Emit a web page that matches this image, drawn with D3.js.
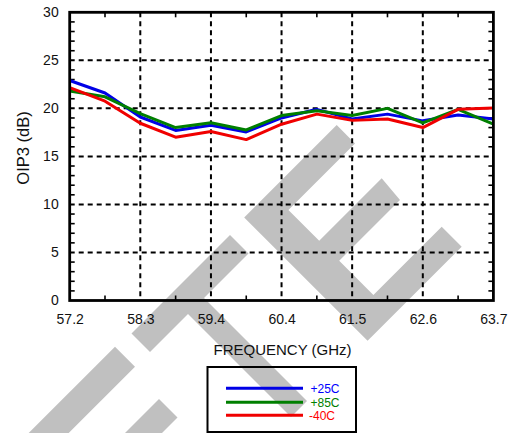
<!DOCTYPE html>
<html><head><meta charset="utf-8">
<script src="https://cdn.jsdelivr.net/npm/d3@7"></script>
<style>
body{margin:0;background:#fff}
svg{display:block}
text{font-family:"Liberation Sans",Arial,Helvetica,sans-serif}
</style>
</head><body>
<svg id="chart" width="508" height="433"></svg>
<script>
// ---- data ----
const frequency = [57.2, 57.742, 58.283, 58.825, 59.367, 59.908, 60.45, 60.992, 61.533, 62.075, 62.617, 63.158, 63.7];
const oip3_p25 = [22.9, 21.6, 19.1, 17.7, 18.25, 17.55, 19.0, 19.9, 18.9, 19.4, 18.7, 19.3, 18.9];
const oip3_p85 = [21.8, 21.2, 19.45, 18.0, 18.5, 17.75, 19.25, 19.75, 19.25, 20.0, 18.5, 19.9, 18.35];
const oip3_m40 = [22.15, 20.75, 18.45, 17.0, 17.6, 16.75, 18.35, 19.4, 18.75, 18.9, 18.0, 19.9, 20.05];
const seriesNames = ["+25C", "+85C", "-40C"];
const xTickValues = [57.2, 58.283, 59.367, 60.45, 61.533, 62.617, 63.7];
const xTickLabels = ["57.2", "58.3", "59.4", "60.4", "61.5", "62.6", "63.7"];
const yTickValues = [0, 5, 10, 15, 20, 25, 30];
const yTickLabels = ["0", "5", "10", "15", "20", "25", "30"];
const xTitle = "FREQUENCY (GHz)";
const yTitle = "OIP3 (dB)";

// ---- styles ----
const colors = ["#0000e6", "#007f00", "#f00000"];
const textColors = ["#0000ff", "#008000", "#ff0000"];

const svg = d3.select("#chart");
const x = d3.scaleLinear().domain([57.2, 63.7]).range([69.7, 493.4]);
const y = d3.scaleLinear().domain([0, 30]).range([300.5, 12.3]);

// ---- decorative watermark (behind the chart) ----
const wm = svg.append("g").attr("fill", "#c0c0c0");
const wmShapes = [
  [[244.2,217.5],[336.7,125],[355,143.4],[288.4,210],[319.2,240.8],[381.7,178.3],[400,200],[339.2,260.8],[373.4,295],[441.7,226.7],[461.7,246.7],[367.6,340.8]],
  [[131.5,333.5],[230,235],[248.5,253.5],[204,298],[307,401],[291,417],[188,314],[150,352]],
  [[115,346.7],[135,366.7],[68.7,433],[28.7,433]],
  [[159,399],[177.5,417.5],[162,433],[125,433]]
];
wm.selectAll("polygon").data(wmShapes).join("polygon")
  .attr("points", d => d.map(p => p.join(",")).join(" "));

// ---- grid ----
const grid = svg.append("g").attr("stroke", "#000").attr("stroke-width", 2).attr("stroke-dasharray", "5,4");
grid.selectAll("line.v").data(xTickValues.slice(1, -1)).join("line").attr("class", "v")
  .attr("x1", d => x(d)).attr("x2", d => x(d)).attr("y1", y(30)).attr("y2", y(0));
grid.selectAll("line.h").data(yTickValues.slice(1, -1)).join("line").attr("class", "h")
  .attr("y1", d => y(d)).attr("y2", d => y(d)).attr("x1", x(57.2)).attr("x2", x(63.7));

// ---- minor ticks (inside frame) ----
const ticks = svg.append("g").attr("stroke", "#000").attr("stroke-width", 1.6);
const xMinor = d3.pairs(xTickValues).map(p => (p[0] + p[1]) / 2);
xMinor.forEach(v => {
  ticks.append("line").attr("x1", x(v)).attr("x2", x(v)).attr("y1", y(0)).attr("y2", y(0) - 5);
  ticks.append("line").attr("x1", x(v)).attr("x2", x(v)).attr("y1", y(30)).attr("y2", y(30) + 5);
});
const yMinor = d3.range(1, 30).filter(v => v % 5 !== 0);
yMinor.forEach(v => {
  ticks.append("line").attr("y1", y(v)).attr("y2", y(v)).attr("x1", x(57.2)).attr("x2", x(57.2) + 5);
  ticks.append("line").attr("y1", y(v)).attr("y2", y(v)).attr("x1", x(63.7)).attr("x2", x(63.7) - 5);
});

// ---- axes labels ----
const xAxis = d3.axisBottom(x).tickValues(xTickValues).tickFormat((d, i) => xTickLabels[i]).tickSize(0).tickPadding(14);
const gx = svg.append("g").attr("transform", `translate(0,${y(0)})`).call(xAxis);
gx.select(".domain").remove();
gx.selectAll("text").attr("font-size", 14).attr("fill", "#111").attr("font-family", '"Liberation Sans",Arial,sans-serif');

const yAxis = d3.axisLeft(y).tickValues(yTickValues).tickFormat((d, i) => yTickLabels[i]).tickSize(0).tickPadding(11);
const gy = svg.append("g").attr("transform", `translate(${x(57.2)},0)`).call(yAxis);
gy.select(".domain").remove();
gy.selectAll("text").attr("font-size", 14).attr("fill", "#111").attr("font-family", '"Liberation Sans",Arial,sans-serif');

svg.append("text").attr("x", 282.5).attr("y", 355).attr("text-anchor", "middle")
  .attr("font-size", 15).attr("fill", "#111").text(xTitle);
svg.append("text").attr("transform", "translate(28.5,148) rotate(-90)").attr("text-anchor", "middle")
  .attr("font-size", 16.5).attr("fill", "#111").text(yTitle);

// ---- series lines ----
const series = [oip3_p25, oip3_p85, oip3_m40];
const line = d3.line().x((d, i) => x(frequency[i])).y(d => y(d));
svg.append("g").selectAll("path").data(series).join("path")
  .attr("d", d => line(d)).attr("fill", "none")
  .attr("stroke", (d, i) => colors[i]).attr("stroke-width", 3)
  .attr("stroke-linejoin", "round");

// ---- frame ----
svg.append("rect").attr("x", x(57.2)).attr("y", y(30))
  .attr("width", x(63.7) - x(57.2)).attr("height", y(0) - y(30))
  .attr("fill", "none").attr("stroke", "#000").attr("stroke-width", 2.8);

// ---- legend ----
const lg = svg.append("g");
lg.append("rect").attr("x", 207.5).attr("y", 367).attr("width", 148.5).attr("height", 65)
  .attr("fill", "none").attr("stroke", "#000").attr("stroke-width", 2);
const legendLineY = [388.3, 402.3, 415.3];
const legendTextY = [392.6, 406.5, 420.4];
seriesNames.forEach((name, i) => {
  lg.append("line").attr("x1", 226).attr("x2", 303).attr("y1", legendLineY[i]).attr("y2", legendLineY[i])
    .attr("stroke", colors[i]).attr("stroke-width", 3);
  lg.append("text").attr("x", i === 2 ? 309 : 310.5).attr("y", legendTextY[i])
    .attr("font-size", 12).attr("fill", textColors[i]).text(name);
});
</script>
</body></html>
